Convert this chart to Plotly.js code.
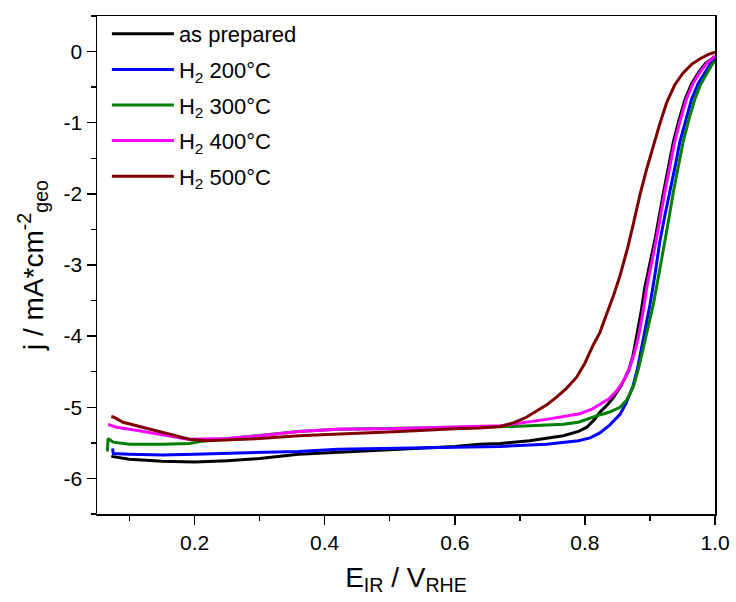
<!DOCTYPE html>
<html>
<head>
<meta charset="utf-8">
<script src="https://cdn.plot.ly/plotly-3.0.1.min.js"></script>
<style>html,body{margin:0;padding:0;background:#fff;}#chart{width:736px;height:602px;}</style>
</head>
<body>
<div id="chart"></div>
<script>
// ---- data ----
const seriesNames = ["as prepared", "H<sub>2</sub> 200°C", "H<sub>2</sub> 300°C", "H<sub>2</sub> 400°C", "H<sub>2</sub> 500°C"];
const seriesColors = ["#000000", "#0000ff", "#008000", "#ff00ff", "#800000"];

const xAsPrepared = [0.072, 0.1, 0.15, 0.2, 0.25, 0.3, 0.36, 0.42, 0.5, 0.6, 0.638, 0.67, 0.715, 0.767, 0.79, 0.803, 0.815, 0.823, 0.834, 0.844, 0.856, 0.867, 0.874, 0.879, 0.886, 0.892, 0.9, 0.908, 0.921, 0.929, 0.936, 0.945, 0.954, 0.964, 0.975, 0.985, 0.995, 1.0];
const yAsPrepared = [-5.69, -5.73, -5.76, -5.77, -5.75, -5.72, -5.66, -5.63, -5.60, -5.55, -5.52, -5.51, -5.47, -5.40, -5.34, -5.28, -5.17, -5.07, -4.97, -4.86, -4.69, -4.49, -4.27, -4.02, -3.68, -3.32, -2.97, -2.63, -1.97, -1.60, -1.27, -0.95, -0.67, -0.45, -0.29, -0.17, -0.10, -0.08];

const xH200 = [0.074, 0.075, 0.1, 0.15, 0.2, 0.25, 0.3, 0.36, 0.42, 0.5, 0.6, 0.67, 0.741, 0.79, 0.808, 0.823, 0.838, 0.847, 0.854, 0.864, 0.874, 0.881, 0.887, 0.894, 0.9, 0.908, 0.915, 0.923, 0.931, 0.939, 0.946, 0.955, 0.964, 0.974, 0.985, 0.993, 1.0];
const yH200 = [-5.58, -5.65, -5.66, -5.67, -5.66, -5.65, -5.63, -5.62, -5.59, -5.58, -5.56, -5.55, -5.52, -5.47, -5.43, -5.36, -5.25, -5.17, -5.10, -4.93, -4.70, -4.45, -4.16, -3.86, -3.56, -3.12, -2.68, -2.30, -1.97, -1.60, -1.27, -0.95, -0.67, -0.45, -0.29, -0.17, -0.10];

const xH300 = [0.066, 0.067, 0.075, 0.1, 0.15, 0.192, 0.208, 0.25, 0.3, 0.36, 0.42, 0.5, 0.6, 0.69, 0.767, 0.79, 0.818, 0.837, 0.854, 0.864, 0.874, 0.882, 0.89, 0.898, 0.905, 0.914, 0.923, 0.93, 0.936, 0.944, 0.951, 0.96, 0.969, 0.978, 0.988, 0.995, 1.0];
const yH300 = [-5.62, -5.44, -5.49, -5.52, -5.52, -5.51, -5.48, -5.44, -5.40, -5.34, -5.31, -5.30, -5.28, -5.27, -5.24, -5.21, -5.12, -5.07, -5.00, -4.90, -4.72, -4.47, -4.16, -3.86, -3.56, -3.12, -2.68, -2.30, -1.97, -1.60, -1.27, -0.95, -0.67, -0.46, -0.29, -0.19, -0.13];

const xH400 = [0.067, 0.08, 0.115, 0.15, 0.19, 0.25, 0.3, 0.36, 0.42, 0.5, 0.6, 0.67, 0.741, 0.792, 0.81, 0.823, 0.837, 0.849, 0.86, 0.869, 0.876, 0.882, 0.889, 0.895, 0.903, 0.91, 0.923, 0.931, 0.938, 0.947, 0.956, 0.966, 0.977, 0.987, 0.997, 1.0];
const yH400 = [-5.24, -5.28, -5.33, -5.39, -5.45, -5.44, -5.40, -5.34, -5.31, -5.30, -5.28, -5.26, -5.17, -5.09, -5.03, -4.96, -4.88, -4.77, -4.62, -4.44, -4.24, -4.02, -3.68, -3.32, -2.97, -2.63, -1.97, -1.60, -1.27, -0.95, -0.67, -0.45, -0.29, -0.17, -0.09, -0.06];

const xH500 = [0.072, 0.076, 0.09, 0.141, 0.192, 0.218, 0.25, 0.3, 0.36, 0.42, 0.515, 0.6, 0.638, 0.67, 0.69, 0.71, 0.726, 0.742, 0.756, 0.772, 0.787, 0.8, 0.813, 0.823, 0.833, 0.844, 0.854, 0.866, 0.875, 0.885, 0.895, 0.905, 0.915, 0.926, 0.938, 0.951, 0.964, 0.977, 0.99, 1.0];
const yH500 = [-5.13, -5.14, -5.21, -5.33, -5.45, -5.47, -5.46, -5.44, -5.40, -5.38, -5.34, -5.30, -5.29, -5.27, -5.22, -5.14, -5.05, -4.96, -4.86, -4.73, -4.58, -4.38, -4.12, -3.95, -3.70, -3.43, -3.15, -2.75, -2.40, -2.00, -1.65, -1.32, -1.02, -0.71, -0.47, -0.30, -0.18, -0.10, -0.04, -0.01];

const xTickVals = [0.2, 0.4, 0.6, 0.8, 1.0];
const xTickText = ["0.2", "0.4", "0.6", "0.8", "1.0"];
const yTickVals = [0, -1, -2, -3, -4, -5, -6];
const yTickText = ["0", "-1", "-2", "-3", "-4", "-5", "-6"];

const xs = [xAsPrepared, xH200, xH300, xH400, xH500];
const ys = [yAsPrepared, yH200, yH300, yH400, yH500];

const FONT = "Arial, 'Liberation Sans', sans-serif";

const traces = xs.map((x, i) => ({
  x: x, y: ys[i], name: seriesNames[i], type: "scatter", mode: "lines",
  legendgroup: "g" + i,
  line: {color: seriesColors[i], width: 3, shape: "linear"}
}));

const layout = {
  width: 736, height: 602,
  margin: {l: 97, r: 21, t: 16, b: 88},
  paper_bgcolor: "#fff", plot_bgcolor: "#fff",
  font: {family: FONT, color: "#000", size: 21},
  showlegend: true,
  legend: {x: 0.016, y: 1.006, xanchor: "left", yanchor: "top", bgcolor: "rgba(0,0,0,0)",
           font: {size: 22, family: FONT}, traceorder: "grouped", tracegroupgap: 4, itemwidth: 62},
  xaxis: {
    range: [0.05, 1.0], showgrid: false, zeroline: false,
    showline: true, linecolor: "#000", linewidth: 1.5, mirror: true,
    ticks: "outside", ticklen: 9, tickwidth: 1.5, tickcolor: "#000",
    tickvals: xTickVals, ticktext: xTickText,
    tickfont: {size: 21, family: FONT},
    minor: {dtick: 0.1, tick0: 0, ticks: "outside", ticklen: 5, tickwidth: 1.5, tickcolor: "#000", showgrid: false},
    title: {text: "E<sub>IR</sub> / V<sub>RHE</sub>", font: {size: 28, family: FONT}, standoff: 14}
  },
  yaxis: {
    range: [-6.5, 0.5], showgrid: false, zeroline: false,
    showline: true, linecolor: "#000", linewidth: 1.5, mirror: true,
    ticks: "outside", ticklen: 9, tickwidth: 1.5, tickcolor: "#000",
    tickvals: yTickVals, ticktext: yTickText,
    tickfont: {size: 21, family: FONT},
    minor: {dtick: 0.5, tick0: 0, ticks: "outside", ticklen: 5, tickwidth: 1.5, tickcolor: "#000", showgrid: false},
    title: {text: "j / mA*cm<sup>-2</sup><sub>geo</sub>", font: {size: 28, family: FONT}, standoff: 12}
  }
};

Plotly.newPlot("chart", traces, layout, {displayModeBar: false, staticPlot: true});
</script>
</body>
</html>
